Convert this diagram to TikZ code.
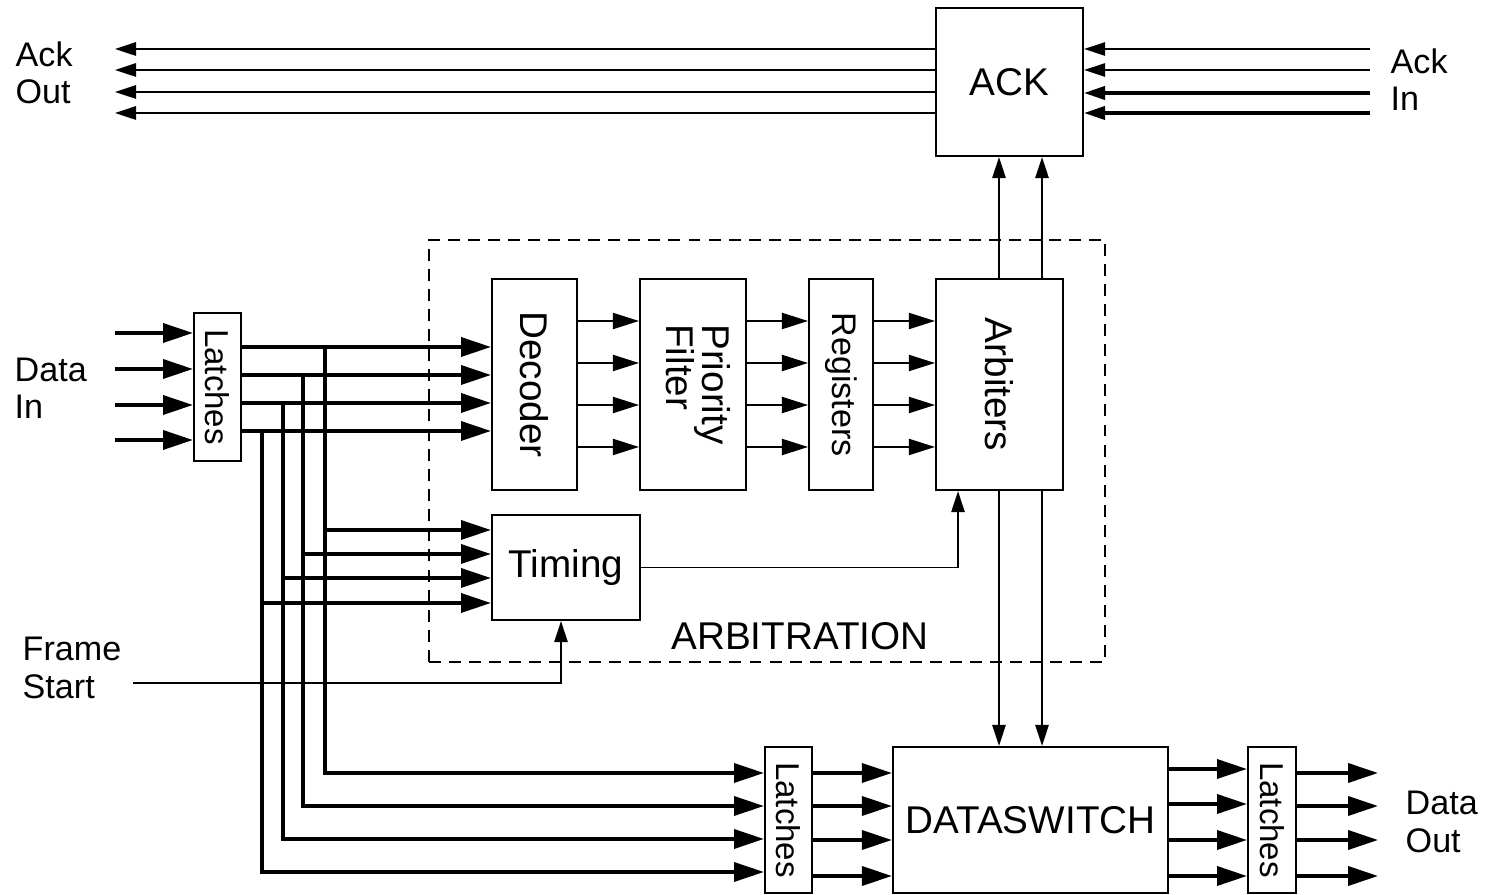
\documentclass[tikz,border=0pt]{standalone}
\usepackage{fontspec}
\setmainfont{Liberation Sans}
\usetikzlibrary{arrows.meta,positioning}

\begin{document}
\begin{tikzpicture}[x=0.01cm,y=-0.01cm,
  blk/.style={draw,line width=0.6pt,inner sep=0pt,align=center,
              font=\fontsize{11}{10}\selectfont},
  lbl/.style={align=left,inner sep=0pt,anchor=west,
              font=\fontsize{9.7}{10.6}\selectfont},
  bus/.style={line width=1pt,-{Triangle[length=8.5pt,width=5.4pt]}},
  sig/.style={line width=0.45pt,-{Triangle[length=7.4pt,width=4.6pt]}},
  ctl/.style={line width=0.55pt,-{Triangle[length=6pt,width=3.8pt]}},
]
\useasboundingbox (0,0) rectangle (1485,895);

% blocks
\node[blk,minimum width=1.47cm,minimum height=1.48cm] (ack) at (1009.5,82) {ACK};
\node[draw,dashed,dash pattern=on 3.4pt off 2.3pt,line width=0.6pt,
      minimum width=6.76cm,minimum height=4.22cm] (arbit) at (767,451) {};
\node[font=\fontsize{11}{12}\selectfont] (arblbl) at (800,636) {ARBITRATION};
\node[blk,minimum width=0.85cm,minimum height=2.11cm] (dec) at (534.5,384.5)
  {\rotatebox{-90}{Decoder}};
\node[blk,minimum width=1.06cm,minimum height=2.11cm] (pf) at (693,384.5)
  {\rotatebox{-90}{\begin{tabular}{@{}l@{}}Priority\\[-0.6pt]Filter\end{tabular}}};
\node[blk,minimum width=0.64cm,minimum height=2.11cm,
      font=\fontsize{9.7}{10}\selectfont] (reg) at (841,384.5)
  {\rotatebox{-90}{Registers}};
\node[blk,minimum width=1.27cm,minimum height=2.11cm] (arb) at (999.5,384.5)
  {\rotatebox{-90}{Arbiters}};
\node[blk,minimum width=1.48cm,minimum height=1.05cm] (tim) at (566,567.5) {Timing};
\node[blk,minimum width=0.47cm,minimum height=1.48cm,
      font=\fontsize{9.4}{10}\selectfont] (latin) at (217.5,387)
  {\rotatebox{-90}{Latches}};
\node[blk,minimum width=0.47cm,minimum height=1.46cm,
      font=\fontsize{9.4}{10}\selectfont] (latmid) at (788.5,820)
  {\rotatebox{-90}{Latches}};
\node[blk,minimum width=2.75cm,minimum height=1.46cm] (dsw) at (1030.5,820) {DATASWITCH};
\node[blk,minimum width=0.48cm,minimum height=1.46cm,
      font=\fontsize{9.4}{10}\selectfont] (latout) at (1272,820)
  {\rotatebox{-90}{Latches}};

% labels
\node[lbl] (ackout) at (15,73) {Ack\\Out};
\node[lbl] (ackin) at (1390,80) {Ack\\In};
\node[lbl] (datain) at (14,388) {Data\\In};
\node[lbl] (frame) at (22,668) {Frame\\Start};
\node[lbl] (dataout) at (1405,822) {Data\\Out};

% acknowledge lines
\foreach \y in {49,70,92,113}
  \draw[ctl] (ack.west |- 0,\y) -- (115,\y);
\foreach \y in {49,70}
  \draw[ctl] (1370,\y) -- (ack.east |- 0,\y);
\foreach \y in {93,113}
  \draw[ctl,line width=0.9pt] (1370,\y) -- (ack.east |- 0,\y);
\foreach \x in {999,1042} {
  \draw[ctl] (arb.north -| \x,0) -- (ack.south -| \x,0);
  \draw[ctl] (arb.south -| \x,0) -- (dsw.north -| \x,0);
}

% data in
\foreach \y in {333,369,405,440}
  \draw[bus] (115,\y) -- (latin.west |- 0,\y);
\foreach \xb/\ya/\yt/\yb in {325/347/530/773,303/375/554/806,
                             283/403/578/839,262/431/603/872} {
  \draw[bus] (latin.east |- 0,\ya) -- (dec.west |- 0,\ya);
  \draw[line width=1pt] (\xb,\ya) -- (\xb,\yt);
  \draw[bus] (\xb,\yt) -- (tim.west |- 0,\yt);
  \draw[bus] (\xb,\yt) |- (latmid.west |- 0,\yb);
}

% arbitration pipeline
\foreach \y in {321,363,405,447} {
  \draw[sig] (dec.east |- 0,\y) -- (pf.west |- 0,\y);
  \draw[sig] (pf.east |- 0,\y) -- (reg.west |- 0,\y);
  \draw[sig] (reg.east |- 0,\y) -- (arb.west |- 0,\y);
}
\draw[ctl,line width=0.45pt] (tim.east) -| (arb.south -| 958,0);
\draw[ctl,line width=0.45pt] (133,683) -| (tim.south -| 561,0);

% data out
\foreach \y in {773,806,840,876}
  \draw[bus] (latmid.east |- 0,\y) -- (dsw.west |- 0,\y);
\foreach \y in {769,804,840,876}
  \draw[bus] (dsw.east |- 0,\y) -- (latout.west |- 0,\y);
\foreach \y in {773,806,840,876}
  \draw[bus] (latout.east |- 0,\y) -- (1378,\y);
\end{tikzpicture}
\end{document}
